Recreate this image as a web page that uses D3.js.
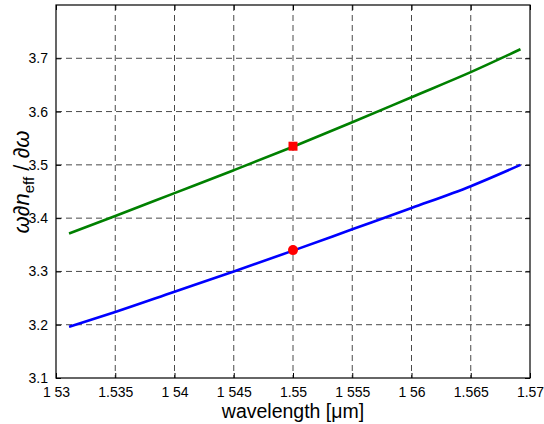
<!DOCTYPE html>
<html><head><meta charset="utf-8">
<script src="https://cdn.jsdelivr.net/npm/d3@7"></script>
<style>body{margin:0;background:#fff}svg{display:block}text{font-family:"Liberation Sans",Arial,sans-serif}</style>
</head><body><svg id="c" width="544" height="424"></svg>
<script>
const wavelength = [1.5311, 1.535, 1.54, 1.545, 1.55, 1.555, 1.56, 1.565, 1.5692];
const greenSeries = [3.371, 3.404, 3.447, 3.490, 3.534, 3.580, 3.627, 3.674, 3.717];
const blueSeries  = [3.196, 3.224, 3.262, 3.300, 3.339, 3.379, 3.419, 3.460, 3.500];
const markerX = [1.55];
const greenMarker = [3.535];
const blueMarker = [3.340];
const xTicks = [1.53, 1.535, 1.54, 1.545, 1.55, 1.555, 1.56, 1.565, 1.57];
const xTickLabels = ["1 53", "1.535", "1 54", "1 545", "1.55", "1 555", "1 56", "1.565", "1.57"];
const yTicks = [3.1, 3.2, 3.3, 3.4, 3.5, 3.6, 3.7];
const yTickLabels = ["3.1", "3.2", "3.3", "3.4", "3.5", "3.6", "3.7"];

const L = 56, R = 530, T = 5, B = 378;
const svg = d3.select("#c");
const x = d3.scaleLinear().domain([1.53, 1.57]).range([L, R]);
const y = d3.scaleLinear().domain([3.1, 3.8]).range([B, T]);

// grid
const g = svg.append("g");
g.selectAll("line.vx").data(xTicks.slice(1, -1)).join("line")
  .attr("x1", d => x(d)).attr("x2", d => x(d)).attr("y1", T).attr("y2", B)
  .attr("stroke", "#4a4a4a").attr("stroke-width", 1).attr("stroke-dasharray", "6,4");
g.selectAll("line.hy").data(yTicks.slice(1)).join("line")
  .attr("y1", d => y(d)).attr("y2", d => y(d)).attr("x1", L).attr("x2", R)
  .attr("stroke", "#4a4a4a").attr("stroke-width", 1).attr("stroke-dasharray", "6,4");

// axes
const xa = d3.axisBottom(x).tickValues(xTicks).tickSizeInner(-5).tickSizeOuter(0)
  .tickFormat((d, i) => xTickLabels[i]).tickPadding(9);
const xg = svg.append("g").attr("transform", `translate(0,${B})`).call(xa);
const xt = svg.append("g").attr("transform", `translate(0,${T})`).call(d3.axisTop(x).tickValues(xTicks).tickSizeInner(-5).tickSizeOuter(0).tickFormat(""));
const ya = d3.axisLeft(y).tickValues(yTicks).tickSizeInner(-5).tickSizeOuter(0)
  .tickFormat((d, i) => yTickLabels[i]).tickPadding(8);
const yg = svg.append("g").attr("transform", `translate(${L},0)`).call(ya);
const yr = svg.append("g").attr("transform", `translate(${R},0)`).call(d3.axisRight(y).tickValues(yTicks).tickSizeInner(-5).tickSizeOuter(0).tickFormat(""));
[xg, xt, yg, yr].forEach(a => { a.select(".domain").remove(); a.selectAll("line").attr("stroke", "#000"); });
svg.selectAll(".tick text").attr("font-size", 14).attr("fill", "#000").attr("font-family", "Liberation Sans, Arial, sans-serif");

svg.append("rect").attr("x", L).attr("y", T).attr("width", R - L).attr("height", B - T)
  .attr("fill", "none").attr("stroke", "#000").attr("stroke-width", 1.2);

// lines
const line = d3.line().curve(d3.curveMonotoneX).x(d => x(d[0])).y(d => y(d[1]));
svg.append("path").datum(wavelength.map((w, i) => [w, greenSeries[i]]))
  .attr("d", line).attr("fill", "none").attr("stroke", "#008000").attr("stroke-width", 2.6);
svg.append("path").datum(wavelength.map((w, i) => [w, blueSeries[i]]))
  .attr("d", line).attr("fill", "none").attr("stroke", "#0000ff").attr("stroke-width", 2.6);

// markers
svg.selectAll("rect.m").data(markerX.map((w, i) => [w, greenMarker[i]])).join("rect")
  .attr("x", d => x(d[0]) - 4.5).attr("y", d => y(d[1]) - 4.5).attr("width", 9).attr("height", 9).attr("fill", "#ff0000");
svg.selectAll("circle.m").data(markerX.map((w, i) => [w, blueMarker[i]])).join("circle")
  .attr("cx", d => x(d[0])).attr("cy", d => y(d[1])).attr("r", 5).attr("fill", "#ff0000");

// axis titles
svg.append("text").attr("x", (L + R) / 2).attr("y", 418).attr("text-anchor", "middle")
  .attr("font-size", 19.5).text("wavelength [\u03bcm]");
const yl = svg.append("text").attr("transform", "translate(29,182) rotate(-90)")
  .attr("text-anchor", "middle").attr("font-size", 22).attr("font-family", "DejaVu Sans, sans-serif");
yl.append("tspan").attr("font-style", "italic").text("\u03c9\u2202");
yl.append("tspan").attr("font-style", "italic").attr("font-family", "Liberation Sans, Arial, sans-serif").text("n");
yl.append("tspan").attr("font-size", 15).attr("font-family", "Liberation Sans, Arial, sans-serif").attr("dy", 5).text("eff");
yl.append("tspan").attr("dy", -5).attr("font-family", "Liberation Sans, Arial, sans-serif").text(" / ");
yl.append("tspan").attr("font-style", "italic").text("\u2202\u03c9");
</script></body></html>
